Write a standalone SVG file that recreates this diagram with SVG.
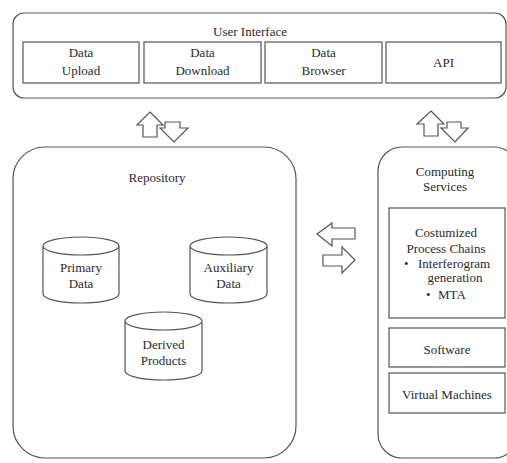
<svg xmlns="http://www.w3.org/2000/svg" width="507" height="463" viewBox="0 0 507 463">
<style>
.box{fill:#fff;stroke:#555;stroke-width:1.2}
.t{font-family:"Liberation Serif","Times New Roman",serif;font-size:13px;fill:#2a2a2a;text-anchor:middle}
.tl{font-family:"Liberation Serif","Times New Roman",serif;font-size:13px;fill:#2a2a2a}
.ar{fill:#fff;stroke:#555;stroke-width:1.2;stroke-linejoin:miter}
</style>
<rect width="507" height="463" fill="#fff"/>
<g id="user-interface">
<rect class="box" x="13" y="13" width="493" height="85" rx="11"/>
<text class="t" x="250" y="36">User Interface</text>
</g>
<g id="data-upload">
<rect class="box" x="23" y="42" width="116" height="41"/>
<text class="t" x="81" y="57">Data</text><text class="t" x="81" y="75">Upload</text>
</g>
<g id="data-download">
<rect class="box" x="144" y="42" width="117" height="41"/>
<text class="t" x="202.5" y="57">Data</text><text class="t" x="202.5" y="75">Download</text>
</g>
<g id="data-browser">
<rect class="box" x="265" y="42" width="117" height="41"/>
<text class="t" x="323.5" y="57">Data</text><text class="t" x="323.5" y="75">Browser</text>
</g>
<g id="api">
<rect class="box" x="386" y="42" width="115" height="41"/>
<text class="t" x="443.5" y="67">API</text>
</g>
<g id="repository">
<rect class="box" x="13" y="147" width="283" height="311" rx="32"/>
<text class="t" x="157" y="182">Repository</text>
</g>
<g id="primary-data">
<path class="box" d="M43,246 L43,294 A38,9 0 0 0 119,294 L119,246 A38,9 0 0 0 43,246 A38,9 0 0 0 119,246"/>
<text class="t" x="81" y="272">Primary</text><text class="t" x="81" y="288">Data</text>
</g>
<g id="auxiliary-data">
<path class="box" d="M190,246 L190,294 A38.5,9 0 0 0 267,294 L267,246 A38.5,9 0 0 0 190,246 A38.5,9 0 0 0 267,246"/>
<text class="t" x="228.5" y="272">Auxiliary</text><text class="t" x="228.5" y="288">Data</text>
</g>
<g id="derived-products">
<path class="box" d="M125,321 L125,371 A38.5,9 0 0 0 202,371 L202,321 A38.5,9 0 0 0 125,321 A38.5,9 0 0 0 202,321"/>
<text class="t" x="163.5" y="349">Derived</text><text class="t" x="163.5" y="365">Products</text>
</g>
<g id="computing-services">
<rect class="box" x="378" y="147" width="140" height="311" rx="24"/>
<text class="t" x="445" y="176">Computing</text><text class="t" x="445" y="191">Services</text>
</g>
<g id="process-chains">
<rect class="box" x="389" y="208" width="116" height="110"/>
<text class="t" x="446" y="237">Costumized</text>
<text class="t" x="446" y="253">Process Chains</text>
<text class="tl" x="404" y="268">•</text><text class="tl" x="418" y="268">Interferogram</text>
<text class="t" x="455" y="282">generation</text>
<text class="tl" x="426" y="299">•</text><text class="tl" x="438" y="299">MTA</text>
</g>
<g id="software">
<rect class="box" x="389" y="328" width="116" height="39"/>
<text class="t" x="447" y="354">Software</text>
</g>
<g id="virtual-machines">
<rect class="box" x="389" y="373" width="116" height="40"/>
<text class="t" x="447" y="399">Virtual Machines</text>
</g>
<g id="connectors">
<polygon class="ar" points="150,112 163,125 157,125 157,137 143,137 143,125 137,125"/>
<polygon class="ar" points="165,122 180,122 180,128 188,128 174,142 160,128 165,128"/>
<polygon class="ar" points="431,111 444,124 438,124 438,136 424,136 424,124 417,124"/>
<polygon class="ar" points="447,122 461,122 461,128 468,128 455,142 441,128 447,128"/>
<polygon class="ar" points="317,234 332,223 332,228 355,228 355,239 332,239 332,246"/>
<polygon class="ar" points="323,255 342,255 342,247 355,260 342,273 342,266 323,266"/>
</g>
</svg>
